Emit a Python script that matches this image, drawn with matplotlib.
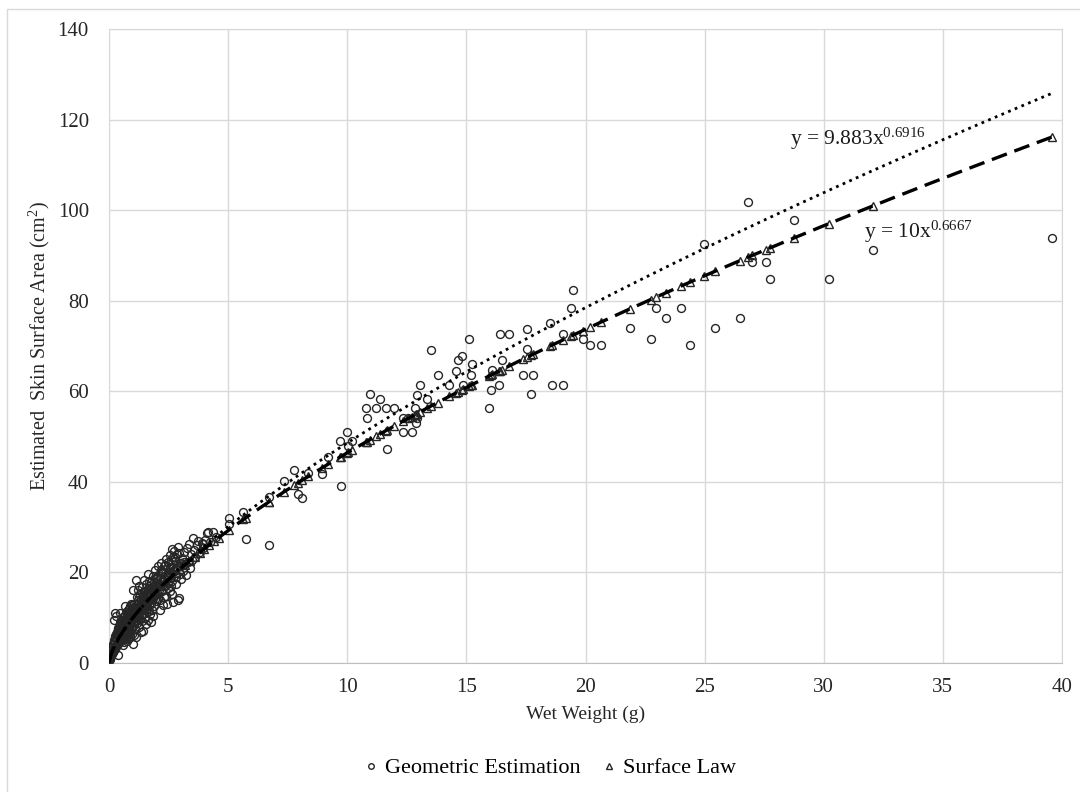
import matplotlib
matplotlib.use("Agg")
import matplotlib.pyplot as plt
import numpy as np
from matplotlib.patches import Rectangle

plt.rcParams.update({"font.family": ["Liberation Serif", "DejaVu Serif"], "mathtext.fontset": "custom",
                     "mathtext.rm": "Liberation Serif", "mathtext.it": "Liberation Serif"})

# Geometric estimation, dense cloud (x < 5 g)
geo_x_small = [
    0.01, 0.02, 0.03, 0.04, 0.05, 0.06, 0.07, 0.08, 0.09, 0.10, 0.11, 0.12, 0.13, 0.14, 0.15, 0.16, 0.18, 0.19, 0.20, 0.21,
    0.22, 0.24, 0.25, 0.26, 0.27, 0.28, 0.30, 0.31, 0.33, 0.34, 0.36, 0.37, 0.39, 0.40, 0.42, 0.43, 0.45, 0.46, 0.48, 0.49,
    0.25, 0.28, 0.46, 0.39, 0.22,
    0.51, 0.52, 0.53, 0.54, 0.55, 0.56, 0.57, 0.58, 0.59, 0.60, 0.61, 0.62, 0.63, 0.64, 0.65, 0.66, 0.67, 0.68, 0.69, 0.70,
    0.71, 0.72, 0.73, 0.74, 0.75, 0.76, 0.77, 0.78, 0.79, 0.80, 0.81, 0.82, 0.83, 0.84, 0.85, 0.86, 0.87, 0.88, 0.89, 0.90,
    0.91, 0.92, 0.93, 0.94, 0.95, 0.96, 0.97, 0.98, 0.99, 1.00,
    1.02, 1.04, 1.06, 1.08, 1.10, 1.12, 1.14, 1.16, 1.18, 1.20, 1.22, 1.24, 1.26, 1.28, 1.30, 1.32, 1.34, 1.36, 1.38, 1.40,
    1.42, 1.44, 1.46, 1.48, 1.50, 1.52, 1.54, 1.56, 1.58, 1.60, 1.62, 1.64, 1.66, 1.68, 1.70, 1.72, 1.74, 1.76, 1.78, 1.80,
    1.82, 1.84, 1.86, 1.88, 1.90, 1.92, 1.94, 1.96, 1.98, 2.00,
    1.02, 1.13, 1.05, 1.15, 1.25, 1.35, 1.45, 1.55, 1.65, 1.75, 1.85, 1.95, 1.11, 1.31, 1.51, 1.71, 1.91, 1.21, 1.41, 1.61,
    2.02, 2.06, 2.10, 2.14, 2.18, 2.22, 2.26, 2.28, 2.30, 2.34, 2.38, 2.42, 2.46, 2.50, 2.54, 2.58, 2.62, 2.66, 2.70, 2.74,
    2.78, 2.82, 2.86, 2.90, 2.94, 2.98,
    2.04, 2.12, 2.20, 2.32, 2.40, 2.48, 2.56, 2.64, 2.72, 2.80, 2.88, 2.96, 2.08, 2.16, 2.24, 2.36, 2.44, 2.52, 2.60, 2.68,
    2.95, 2.39,
    3.02, 3.06, 3.10, 3.14, 3.18, 3.22, 3.26, 3.30, 3.37, 3.40, 3.44, 3.50, 3.54, 3.58, 3.62, 3.68, 3.75, 3.80, 3.89, 3.95,
    4.05, 4.17, 4.25, 4.38, 4.50, 3.96, 2.63, 2.84, 4.13,
    0.55, 0.62, 0.68, 0.74, 0.81, 0.87, 0.93, 0.99, 1.07, 1.17, 1.27, 1.37, 1.47, 1.57, 1.67, 1.77, 1.87, 1.97, 2.07, 2.17,
    2.27, 2.37, 2.47, 2.57, 2.67, 2.77, 0.58, 0.66, 0.72, 0.78, 0.84, 0.90, 0.96, 1.09, 1.19, 1.29, 1.39, 1.49, 1.59, 1.69,
    0.32, 0.35, 0.38, 0.41, 0.44, 0.47, 0.53, 0.57, 0.63, 0.67, 0.73, 0.77, 0.83, 0.88, 0.94, 0.98, 1.03, 1.08, 1.14, 1.19,
    1.24, 1.33, 1.43, 1.53, 1.63, 1.73, 1.83, 1.93, 2.03, 2.13, 2.23, 2.33, 2.43, 2.53, 2.63, 2.73, 2.83, 2.93, 3.03, 3.13,
]
geo_y_small = [
    0.5, 0.9, 1.3, 0.8, 1.9, 1.2, 2.4, 1.5, 2.9, 1.8, 3.1, 2.0, 3.5, 2.2, 3.9, 2.5, 4.3, 2.8, 5.0, 3.0,
    4.6, 3.3, 5.6, 3.7, 6.0, 4.0, 6.4, 3.6, 6.9, 4.5, 7.4, 4.2, 7.8, 5.2, 8.2, 4.8, 8.6, 5.7, 9.0, 6.2,
    11.1, 10.4, 11.1, 1.8, 9.5,
    8.4, 4.9, 6.6, 9.5, 5.4, 7.2, 3.9, 8.8, 6.0, 10.1, 5.2, 7.6, 9.2, 4.6, 7.0, 10.6, 12.6, 6.3, 8.4, 5.5,
    9.9, 7.3, 11.2, 6.1, 8.6, 4.9, 10.3, 7.8, 11.8, 6.6, 9.1, 5.6, 12.0, 8.2, 10.8, 7.0, 9.6, 6.0, 12.5, 8.7,
    11.0, 7.5, 13.1, 9.3, 6.5, 10.9, 8.1, 12.2, 9.7, 4.2,
    11.4, 8.3, 13.0, 9.6, 7.4, 12.1, 10.2, 14.6, 8.8, 11.7, 16.2, 9.9, 13.4, 7.9, 12.4, 15.1, 10.7, 13.9, 9.2, 16.8,
    12.0, 7.1, 14.4, 11.1, 15.8, 10.0, 13.3, 17.4, 11.9, 14.8, 9.5, 16.3, 12.7, 18.1, 14.0, 10.9, 15.6, 13.1, 17.8, 11.8,
    16.0, 14.3, 19.2, 12.5, 16.9, 15.0, 18.5, 13.6, 17.2, 15.4,
    16.1, 18.3, 6.2, 5.8, 17.0, 6.9, 18.3, 8.6, 19.6, 9.0, 10.4, 20.5, 10.9, 11.5, 12.6, 16.6, 14.2, 14.0, 14.9, 13.8,
    18.9, 14.2, 17.3, 11.6, 20.0, 15.8, 18.2, 12.7, 21.4, 16.9, 19.5, 13.0, 17.8, 21.9, 15.9, 19.9, 22.8, 18.0, 13.4, 20.6,
    23.5, 17.5, 21.3, 13.9, 24.4, 19.6,
    21.5, 13.9, 22.0, 14.6, 23.0, 16.6, 23.8, 15.3, 24.8, 19.0, 25.6, 22.0, 16.2, 18.7, 17.1, 20.8, 18.9, 20.2, 17.0, 21.0,
    14.3, 14.8,
    18.6, 23.2, 20.4, 24.6, 21.8, 19.5, 25.3, 22.4, 26.2, 21.0, 24.0, 22.8, 27.7, 25.0, 23.4, 26.0, 26.9, 24.5, 26.5, 25.5,
    27.2, 29.0, 26.8, 29.0, 27.9, 26.3, 25.1, 24.0, 28.7,
    7.9, 8.1, 9.7, 10.2, 10.4, 11.5, 10.1, 11.0, 12.2, 13.1, 14.5, 15.5, 16.0, 15.2, 17.0, 16.4, 17.8, 18.8, 19.4, 20.6,
    20.2, 21.6, 22.4, 21.2, 23.4, 22.6, 5.8, 6.0, 6.8, 9.0, 7.5, 10.2, 12.7, 9.0, 10.0, 9.8, 10.9, 13.8, 12.0, 11.4,
    5.5, 6.1, 6.3, 6.9, 7.2, 7.6, 7.0, 8.0, 8.5, 7.7, 9.4, 8.9, 9.9, 10.0, 10.6, 11.2, 10.4, 11.0, 11.9, 12.9,
    12.0, 13.0, 13.5, 14.1, 15.0, 15.0, 15.8, 16.2, 16.9, 17.4, 18.0, 18.4, 19.0, 19.3, 19.8, 20.3, 20.9, 21.4, 22.0, 22.4,
]

# Geometric estimation, sparse part (x >= 5 g)
geo_x_large = [
    5.05, 5.05, 5.64, 5.74, 6.73, 6.71, 7.34, 7.78, 7.94, 8.09, 8.36, 8.92, 9.18, 9.69, 9.72, 9.97, 10.04, 10.18,
    10.77, 10.81, 10.95, 11.19, 11.37, 11.61, 11.65, 11.96, 12.35, 12.56, 12.91, 12.35, 12.70, 12.84, 12.88, 12.91,
    13.05, 13.36, 13.51, 13.79, 14.28, 14.56, 14.63, 14.80, 14.87, 15.12, 15.18, 15.22, 15.95, 16.03, 16.09, 16.37,
    16.41, 16.48, 16.79, 17.39, 17.55, 17.55, 17.71, 17.81, 18.51, 18.60, 19.06, 19.06, 19.39, 19.49, 19.88, 20.18,
    20.63, 21.86, 22.73, 22.98, 23.36, 24.00, 24.38, 24.98, 25.43, 26.48, 26.83, 27.00, 27.57, 27.74, 28.75, 30.21,
    32.05, 39.56,
]
geo_y_large = [
    32.0, 30.8, 33.4, 27.3, 26.1, 36.7, 40.2, 42.7, 37.4, 36.5, 41.9, 41.7, 45.4, 49.1, 39.1, 51.1, 48.0, 49.1,
    56.2, 54.1, 59.3, 56.2, 58.2, 56.2, 47.3, 56.2, 54.2, 54.2, 54.2, 51.1, 51.1, 56.2, 53.1, 59.2,
    61.4, 58.3, 69.2, 63.5, 61.4, 64.5, 66.9, 67.9, 61.4, 71.5, 63.6, 66.0, 56.2, 60.3, 64.7, 61.4,
    72.6, 66.9, 72.6, 63.5, 73.8, 69.3, 59.3, 63.5, 75.0, 61.4, 61.4, 72.6, 78.5, 82.3, 71.6, 70.3,
    70.3, 73.9, 71.6, 78.5, 76.2, 78.5, 70.3, 92.5, 73.9, 76.2, 101.7, 88.6, 88.6, 84.8, 97.8, 84.8,
    91.1, 93.9,
]

# Surface law points
law_x = [
    0.05, 0.10, 0.15, 0.20, 0.25, 0.30, 0.40, 0.50, 0.60, 0.70, 0.80, 0.90, 1.00, 1.10, 1.20, 1.30, 1.40, 1.50,
    1.60, 1.70, 1.80, 1.90, 2.00, 2.20, 2.40, 2.60, 2.80, 3.00, 3.20, 3.40, 3.60, 3.80, 4.00, 4.20, 4.40, 4.60,
    5.05, 5.64, 5.74, 6.71, 6.73, 7.34, 7.78, 7.94, 8.09, 8.36, 8.92, 9.18, 9.69, 9.72, 9.97, 10.04, 10.18,
    10.77, 10.81, 10.95, 11.19, 11.37, 11.61, 11.65, 11.96, 12.35, 12.56, 12.70, 12.84, 12.88, 12.91, 13.05,
    13.36, 13.51, 13.79, 14.28, 14.56, 14.63, 14.80, 14.87, 15.12, 15.18, 15.22, 15.95, 16.03, 16.09, 16.37,
    16.41, 16.48, 16.79, 17.39, 17.55, 17.71, 17.81, 18.51, 18.60, 19.06, 19.39, 19.49, 19.88, 20.18, 20.63,
    21.86, 22.73, 22.98, 23.36, 24.00, 24.38, 24.98, 25.43, 26.48, 26.83, 27.00, 27.57, 27.74, 28.75, 30.21,
    32.05, 39.56,
]
law_y = [
    1.36, 2.15, 2.82, 3.42, 3.97, 4.48, 5.43, 6.30, 7.11, 7.88, 8.62, 9.32, 10.00, 10.66, 11.29, 11.91, 12.52, 13.10,
    13.68, 14.24, 14.80, 15.34, 15.87, 16.92, 17.93, 18.91, 19.87, 20.80, 21.72, 22.61, 23.49, 24.35, 25.20, 26.03, 26.85, 27.66,
    29.43, 31.69, 32.06, 35.58, 35.65, 37.77, 39.26, 39.80, 40.30, 41.19, 43.01, 43.84, 45.45, 45.54, 46.32, 46.54, 46.97,
    48.77, 48.89, 49.31, 50.03, 50.56, 51.27, 51.39, 52.30, 53.43, 54.03, 54.43, 54.83, 54.95, 55.03, 55.43,
    56.30, 56.72, 57.50, 58.86, 59.63, 59.82, 60.28, 60.47, 61.15, 61.31, 61.42, 63.36, 63.58, 63.73, 64.47,
    64.58, 64.76, 65.57, 67.12, 67.54, 67.94, 68.20, 69.97, 70.20, 71.36, 72.17, 72.42, 73.38, 74.12, 75.22,
    78.18, 80.24, 80.82, 81.72, 83.20, 84.08, 85.46, 86.48, 88.85, 89.62, 90.00, 91.26, 91.65, 93.85, 97.00,
    100.90, 116.10,
]

# power trendlines as labelled on the chart
fit_a, fit_b = 9.883, 0.6916
law_a, law_b = 10.0, 0.6667
x_end = 39.56

geo_x = geo_x_small + geo_x_large
geo_y = geo_y_small + geo_y_large

fig = plt.figure(figsize=(10.8, 7.92), dpi=100)
ax = fig.add_axes([109 / 1080, 1 - 663 / 792, (1062 - 109) / 1080, (663 - 29) / 792])

fig.patches.append(Rectangle((7 / 1080, -0.05), 1.2, 1 - 9 / 792 + 0.05, transform=fig.transFigure,
                             fill=False, edgecolor="#d9d9d9", linewidth=1.0))

ax.plot(geo_x, geo_y, linestyle="none", marker="o", markersize=5.7, markerfacecolor="none",
        markeredgecolor="#262626", markeredgewidth=1.0, label="Geometric Estimation", zorder=3)
ax.plot(law_x, law_y, linestyle="none", marker="^", markersize=6.2, markerfacecolor="none",
        markeredgecolor="#262626", markeredgewidth=1.0, label="Surface Law", zorder=4)

xs = np.linspace(0.001, x_end, 400)
ax.plot(xs, fit_a * xs ** fit_b, color="black", linestyle=(0, (1, 1.6)), linewidth=2.0, zorder=5)
ax.plot(xs, law_a * xs ** law_b, color="black", linestyle=(0, (4.8, 2.4)), linewidth=2.4, zorder=5)

ax.text(28.6, 114.5, r"y = 9.883x$^{\mathrm{0.6916}}$", fontsize=15.5, color="#1a1a1a")
ax.text(31.7, 94.0, r"y = 10x$^{\mathrm{0.6667}}$", fontsize=15.5, color="#1a1a1a")

ax.set_xlim(0, 40)
ax.set_ylim(0, 140)
ax.set_xticks(np.arange(0, 41, 5))
ax.set_yticks(np.arange(0, 141, 20))
ax.grid(True, color="#d9d9d9", linewidth=1.0)
ax.set_axisbelow(True)
for side in ["top", "right", "left"]:
    ax.spines[side].set_color("#d9d9d9")
ax.spines["bottom"].set_color("#bfbfbf")
ax.tick_params(length=0, labelsize=15, colors="#262626", pad=11)
ax.tick_params(axis="y", pad=14.5)

ax.set_xlabel("Wet Weight (g)", fontsize=14, color="#262626", labelpad=6)
ax.set_ylabel("Estimated  Skin Surface Area (cm$^{\\mathrm{2}}$)", fontsize=14.5, color="#262626", labelpad=4)

fig.legend(loc="center", bbox_to_anchor=(548 / 1080, 1 - 768 / 792), ncol=2, frameon=False,
           fontsize=16, markerscale=0.7, handletextpad=0.1, columnspacing=0.8, handlelength=1.0)

fig.savefig("out.png", dpi=100)
